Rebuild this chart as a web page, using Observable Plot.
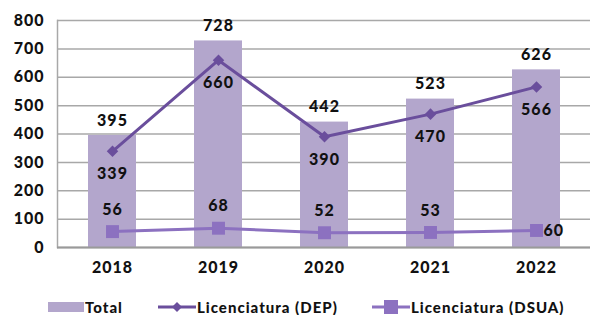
<!DOCTYPE html>
<html><head><meta charset="utf-8">
<script src="https://cdn.jsdelivr.net/npm/d3@7"></script>
<script src="https://cdn.jsdelivr.net/npm/@observablehq/plot@0.6"></script>
<style>
body{margin:0;background:#fff;font-family:Lato,"DejaVu Sans",sans-serif;}
#legend{position:relative;height:33px;font-weight:900;font-size:15px;color:#111;letter-spacing:1px;}
#legend .item{position:absolute;top:16px;display:flex;align-items:center;gap:1px;}
</style></head>
<body>
<div id="chart"></div>
<div id="legend"></div>
<script>
const years = ["2018","2019","2020","2021","2022"];
const total = [395,728,442,523,626];
const dep = [339,660,390,470,566];
const dsua = [56,68,52,53,60];
const yTicks = [0,100,200,300,400,500,600,700,800];
const seriesNames = ["Total","Licenciatura (DEP)","Licenciatura (DSUA)"];
const colors = {bar:"#b3a6cc", dep:"#6a4e9c", dsua:"#8c71c0"};

const rows = years.map((y,i)=>({year:y,total:total[i],dep:dep[i],dsua:dsua[i]}));
const last = years[years.length-1];

const chart = Plot.plot({
  width:590, height:282,
  marginLeft:57, marginRight:0, marginTop:20, marginBottom:35,
  style:{fontFamily:"Lato, 'DejaVu Sans', sans-serif", fontSize:"16px", fontWeight:"900", color:"#111", letterSpacing:"1px"},
  x:{domain:years, paddingInner:0.55, paddingOuter:0.275, label:null},
  y:{domain:[0,800], label:null},
  marks:[
    Plot.gridY(yTicks,{stroke:"#a8a8a8", strokeOpacity:1, strokeWidth:1.5}),
    Plot.frame({anchor:"left", stroke:"#a8a8a8", strokeWidth:1.5}),
    Plot.barY(rows,{x:"year", y:"total", fill:colors.bar}),
    Plot.ruleY([0],{stroke:"#9a9a9a", strokeWidth:2}),
    Plot.axisY({ticks:yTicks, tickSize:0, tickPadding:13, fontSize:16, fontWeight:900}),
    Plot.axisX({tickSize:0, tickPadding:14, fontSize:16, fontWeight:900}),
    Plot.line(rows,{x:"year", y:"dep", stroke:colors.dep, strokeWidth:3}),
    Plot.dot(rows,{x:"year", y:"dep", symbol:"diamond2", r:5.2, fill:colors.dep}),
    Plot.line(rows,{x:"year", y:"dsua", stroke:colors.dsua, strokeWidth:3}),
    Plot.dot(rows,{x:"year", y:"dsua", symbol:"square", r:7.3, fill:colors.dsua}),
    Plot.text(rows,{x:"year", y:"total", text:d=>String(d.total), dy:-15, fill:"#111", fontSize:16, fontWeight:900}),
    Plot.text(rows,{x:"year", y:"dep", text:d=>String(d.dep), dy:23, fill:"#111", fontSize:16, fontWeight:900}),
    Plot.text(rows.filter(d=>d.year!==last),{x:"year", y:"dsua", text:d=>String(d.dsua), dy:-22, fill:"#111", fontSize:16, fontWeight:900}),
    Plot.text(rows.filter(d=>d.year===last),{x:"year", y:"dsua", text:d=>String(d.dsua), dx:7, textAnchor:"start", fill:"#111", fontSize:16, fontWeight:900})
  ]
});
document.getElementById("chart").appendChild(chart);

const lg = document.getElementById("legend");
const items = [
  {left:48, sw:`<svg width="36" height="14"><rect x="0" y="2" width="36" height="10" fill="${colors.bar}"/></svg>`},
  {left:158, sw:`<svg width="38" height="14"><line x1="0" y1="7" x2="38" y2="7" stroke="${colors.dep}" stroke-width="3"/><path d="M19 2 L24 7 L19 12 L14 7Z" fill="${colors.dep}"/></svg>`},
  {left:372, sw:`<svg width="38" height="16"><line x1="0" y1="8" x2="38" y2="8" stroke="${colors.dsua}" stroke-width="3"/><rect x="12" y="1" width="14" height="14" fill="${colors.dsua}"/></svg>`}
];
items.forEach((it,i)=>{
  const d = document.createElement("div");
  d.className="item"; d.style.left=it.left+"px";
  d.innerHTML = it.sw + `<span>${seriesNames[i]}</span>`;
  lg.appendChild(d);
});
</script>
</body></html>
